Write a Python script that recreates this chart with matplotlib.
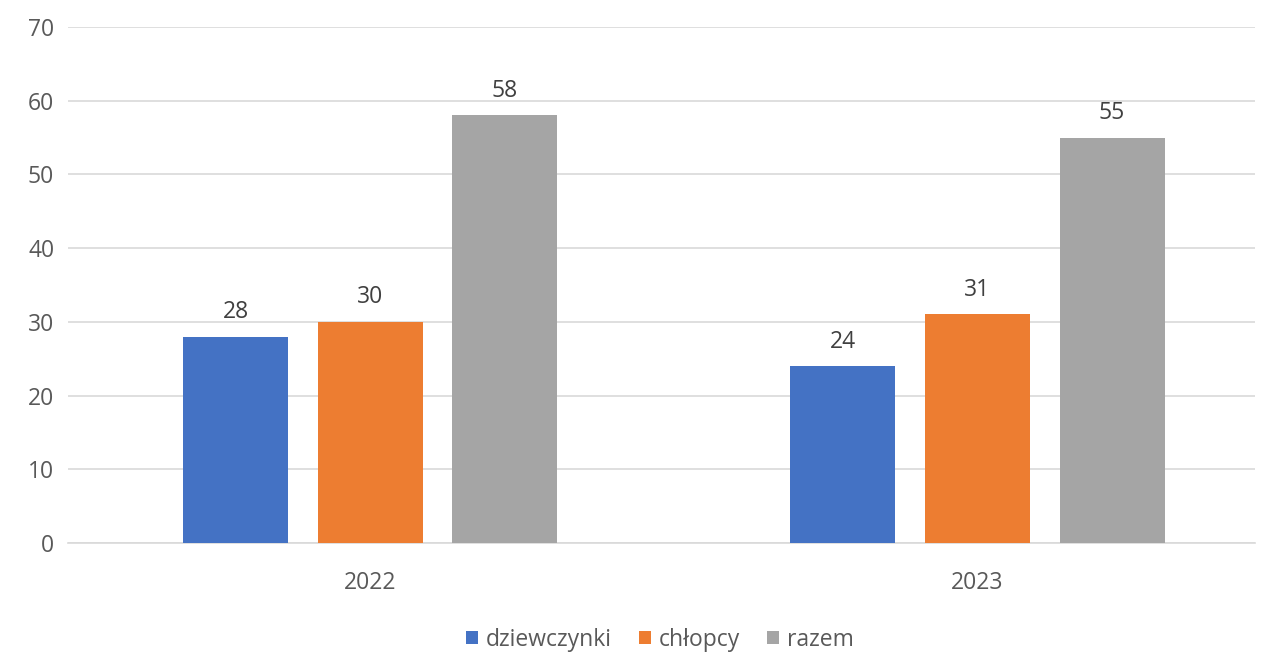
import numpy as np
import matplotlib.pyplot as plt

# Chart data
years = ['2022', '2023']
series_names = ['dziewczynki', 'chłopcy', 'razem']
dziewczynki = [28, 24]
chlopcy = [30, 31]
razem = [58, 55]
colors = ['#4472C4', '#ED7D31', '#A5A5A5']

plt.rcParams['font.family'] = ['Open Sans', 'DejaVu Sans']

fig = plt.figure(figsize=(12.69, 6.53), dpi=100)
ax = fig.add_axes([0.0536, 0.1685, 0.9354, 0.7902])

x = np.arange(len(years))
width = 0.173
step = 0.2216

for i, (name, vals) in enumerate(zip(series_names, [dziewczynki, chlopcy, razem])):
    bars = ax.bar(x + (i - 1) * step, vals, width, color=colors[i], label=name, zorder=3)
    ax.bar_label(bars, padding=9, fontsize=16.5, color='#404040')

ax.set_ylim(0, 70)
ax.set_yticks(range(0, 71, 10))
ax.set_xlim(-0.4975, 1.457)
ax.set_xticks(x)
ax.set_xticklabels(years)

ax.grid(axis='y', color='#D9D9D9', linewidth=1.2, zorder=0)
for side in ['top', 'right', 'left']:
    ax.spines[side].set_visible(False)
ax.spines['bottom'].set_color('#D9D9D9')
ax.spines['bottom'].set_linewidth(1.2)

ax.tick_params(axis='y', length=0, pad=10, labelsize=16.5, labelcolor='#595959')
ax.tick_params(axis='x', length=0, pad=20, labelsize=16.5, labelcolor='#595959')

fig.legend(loc='lower center', bbox_to_anchor=(0.52, -0.03), ncol=3, frameon=False,
           fontsize=16.5, labelcolor='#595959', handlelength=0.5, handleheight=0.5,
           handletextpad=0.35, columnspacing=1.2)

fig.savefig('out.png', dpi=100)
